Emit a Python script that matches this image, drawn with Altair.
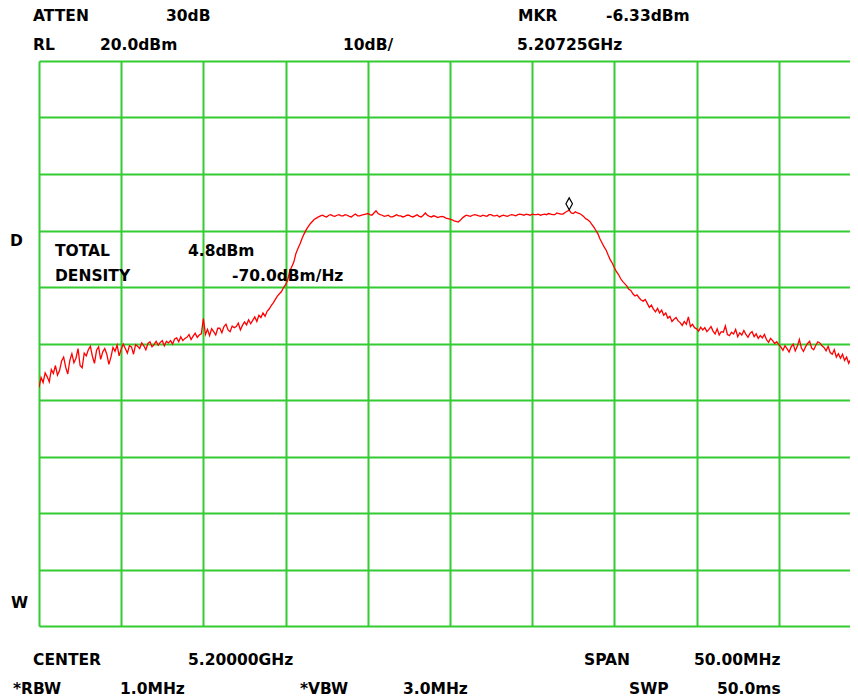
import altair as alt
import pandas as pd

# ---- data ----
START_MHZ = 5175.0
STEP_MHZ = 0.125
levels_dbm = [
    # offset -25 .. -21 MHz (8 samples per MHz)
    -37.8, -36.0, -36.9, -35.2, -35.9, -36.8, -34.6, -35.3,
    -33.9, -35.6, -34.8, -33.1, -32.4, -34.2, -35.4, -33.0,
    -31.8, -33.4, -32.6, -30.9, -33.9, -34.3, -31.7, -32.2,
    -31.1, -30.5, -32.3, -33.5, -31.2, -30.6, -32.8, -31.5,
    -30.9, -31.9, -33.7, -32.4, -30.7, -31.4, -30.3, -32.2,
    # -20 .. -16
    -31.0, -30.1, -30.9, -31.7, -30.4, -30.6, -31.9, -30.2,
    -30.5, -30.9, -29.9, -30.4, -31.1, -30.0, -29.7, -30.6,
    -30.2, -29.6, -30.3, -29.8, -29.5, -30.4, -29.6, -29.9,
    -29.5, -30.1, -29.2, -29.0, -29.7, -28.8, -29.5, -29.1,
    -28.9, -28.4, -29.3, -28.7, -28.2, -28.9, -28.5, -28.3,
    # -15 .. -11
    -25.6, -28.4, -27.5, -28.6, -27.4, -27.9, -28.5, -27.3,
    -27.3, -28.1, -27.0, -26.6, -27.6, -27.9, -26.9, -27.2,
    -27.0, -26.4, -27.6, -26.8, -26.2, -26.7, -25.8, -26.5,
    -25.9, -25.3, -26.1, -25.0, -25.4, -24.6, -25.2, -24.3,
    -23.9, -23.3, -22.8, -22.2, -21.6, -21.2, -20.8, -20.1,
    # -10 .. -6
    -19.6, -18.8, -17.2, -16.4, -15.6, -14.1, -13.2, -12.4,
    -11.4, -10.6, -9.9, -9.3, -8.8, -8.4, -8.0, -7.8,
    -7.6, -7.4, -7.3, -7.5, -7.6, -7.3, -7.2, -7.4,
    -7.5, -7.3, -7.2, -7.4, -7.4, -7.2, -7.3, -7.5,
    -7.6, -7.3, -7.1, -7.4, -7.4, -7.3, -7.2, -7.1,
    # -5 .. -1
    -7.0, -7.2, -7.3, -6.9, -6.5, -7.0, -7.2, -7.3,
    -7.5, -7.4, -7.3, -7.6, -7.6, -7.4, -7.2, -7.4,
    -7.4, -7.6, -7.5, -7.3, -7.3, -7.5, -7.6, -7.4,
    -7.2, -7.5, -7.6, -7.3, -6.9, -7.3, -7.5, -7.6,
    -7.4, -7.5, -7.7, -7.6, -7.5, -7.6, -7.8, -7.9,
    # 0 .. 4
    -8.0, -8.1, -8.3, -8.4, -8.5, -8.2, -7.8, -7.5,
    -7.3, -7.4, -7.5, -7.3, -7.2, -7.3, -7.4, -7.5,
    -7.3, -7.4, -7.5, -7.2, -7.2, -7.4, -7.4, -7.3,
    -7.6, -7.4, -7.3, -7.4, -7.5, -7.3, -7.2, -7.3,
    -7.4, -7.2, -7.1, -7.2, -7.3, -7.1, -7.2, -7.3,
    # 5 .. 9
    -7.1, -7.2, -7.2, -7.1, -7.3, -7.2, -7.1, -7.2,
    -7.0, -7.1, -7.2, -7.2, -6.9, -7.0, -7.1, -7.1,
    -6.8, -6.6, -6.4, -6.9, -7.0, -6.7, -6.9, -7.0,
    -7.2, -7.5, -7.9, -8.1, -8.4, -8.9, -9.4, -10.0,
    -10.6, -11.5, -12.2, -12.9, -13.5, -14.4, -15.2, -15.8,
    # 10 .. 14
    -16.6, -17.3, -17.8, -18.5, -19.0, -19.4, -19.8, -20.4,
    -20.6, -21.2, -21.6, -21.4, -21.9, -22.3, -22.5, -22.2,
    -22.9, -23.6, -23.2, -23.9, -24.4, -23.8, -24.6, -24.1,
    -25.0, -24.6, -25.5, -25.2, -26.1, -25.7, -25.4, -26.0,
    -26.3, -26.8, -26.1, -26.6, -25.3, -27.0, -26.6, -27.2,
    # 15 .. 19
    -27.4, -27.8, -27.1, -27.6, -27.2, -27.9, -27.5, -27.0,
    -27.8, -28.3, -27.4, -28.5, -27.9, -28.0, -26.9, -28.4,
    -28.6, -28.0, -28.3, -27.5, -28.8, -28.1, -28.5, -27.7,
    -28.4, -28.9, -28.2, -27.9, -28.8, -28.3, -29.1, -28.6,
    -29.0, -28.4, -29.3, -29.8, -29.1, -29.5, -30.0, -29.7,
    # 20 .. 24
    -30.2, -30.6, -31.2, -30.4, -30.9, -31.5, -30.6, -30.1,
    -31.3, -30.5, -29.3, -30.8, -31.4, -30.6, -30.0, -29.6,
    -30.8, -31.1, -30.3, -29.7, -29.9, -30.4, -30.7, -31.3,
    -30.5, -31.6, -31.9, -31.1, -32.4, -31.8, -32.6, -31.9,
    -33.0, -32.4, -33.5, -32.8, -33.6, -34.3, -33.7, -34.6,
    # 25
    -35.0,
]
freqs_mhz = [START_MHZ + i * STEP_MHZ for i in range(len(levels_dbm))]

marker_freq_mhz = [5207.25]
marker_level_dbm = [-6.33]

x_ticks = [5175, 5180, 5185, 5190, 5195, 5200, 5205, 5210, 5215, 5220, 5225]
y_ticks = [-80, -70, -60, -50, -40, -30, -20, -10, 0, 10, 20]

labels = [
    "ATTEN", "30dB", "MKR", "-6.33dBm",
    "RL", "20.0dBm", "10dB/", "5.20725GHz",
    "D", "TOTAL", "4.8dBm", "DENSITY", "-70.0dBm/Hz", "W",
    "CENTER", "5.20000GHz", "SPAN", "50.00MHz",
    "*RBW", "1.0MHz", "*VBW", "3.0MHz", "SWP", "50.0ms",
]
# page pixel positions (left, baseline) of each label
label_pos = [
    (33, 21), (166, 21), (518, 21), (606, 21),
    (33, 50), (100, 50), (343, 50), (517, 50),
    (10, 246), (55, 256), (188, 256), (55, 281), (232, 281), (11, 608),
    (33, 665), (188, 665), (584, 665), (694, 665),
    (13, 694), (120, 694), (300, 694), (403, 694), (629, 694), (717, 694),
]

GREEN = "#33cc33"
PLOT_LEFT, PLOT_TOP = 39, 61
FULL_W = 822          # 10 divisions of the instrument screen
VISIBLE_W = 811       # part that fits inside the window
X_MIN = 5175.0
X_MAX_VISIBLE = X_MIN + 50.0 * VISIBLE_W / FULL_W

trace = pd.DataFrame({"freq": freqs_mhz, "level": levels_dbm})
marker = pd.DataFrame({"freq": marker_freq_mhz, "level": marker_level_dbm})

xscale = alt.Scale(domain=[X_MIN, X_MAX_VISIBLE], nice=False, zero=False)
yscale = alt.Scale(domain=[-80, 20], nice=False, zero=False)
xaxis = alt.Axis(values=x_ticks, grid=True, gridColor=GREEN, gridWidth=2, gridOpacity=1,
                 labels=False, ticks=False, domain=False, title=None)
yaxis = alt.Axis(values=y_ticks, grid=True, gridColor=GREEN, gridWidth=2, gridOpacity=1,
                 labels=False, ticks=False, domain=False, title=None)

line = alt.Chart(trace).mark_line(color="#ff0000", strokeWidth=1.3, clip=True).encode(
    x=alt.X("freq:Q", scale=xscale, axis=xaxis),
    y=alt.Y("level:Q", scale=yscale, axis=yaxis),
)

MARKER_SHAPE = "M0,-1 L0.55,0 L0,1 L-0.55,0 Z"
mk = alt.Chart(marker).mark_point(
    shape=MARKER_SHAPE, filled=False, color="black", strokeWidth=1.2, size=140,
    yOffset=-6, opacity=1
).encode(
    x=alt.X("freq:Q", scale=xscale),
    y=alt.Y("level:Q", scale=yscale),
)

text_layers = []
for lab, (px, py) in zip(labels, label_pos):
    text_layers.append(
        alt.Chart(pd.DataFrame({"t": [lab]})).mark_text(
            align="left", baseline="alphabetic", font="DejaVu Sans", fontWeight="bold",
            fontSize=15.5, color="black"
        ).encode(
            text="t:N",
            x=alt.value(px - PLOT_LEFT),
            y=alt.value(py - PLOT_TOP),
        )
    )

chart = alt.layer(line, mk, *text_layers).properties(
    width=VISIBLE_W, height=565,
    autosize=alt.AutoSizeParams(type="none"),
    padding={"left": 31, "top": 53, "right": 0, "bottom": 80},
    background="white",
).configure_view(stroke=None)

chart.save("out.html", embed_options={"renderer": "svg", "actions": False})
